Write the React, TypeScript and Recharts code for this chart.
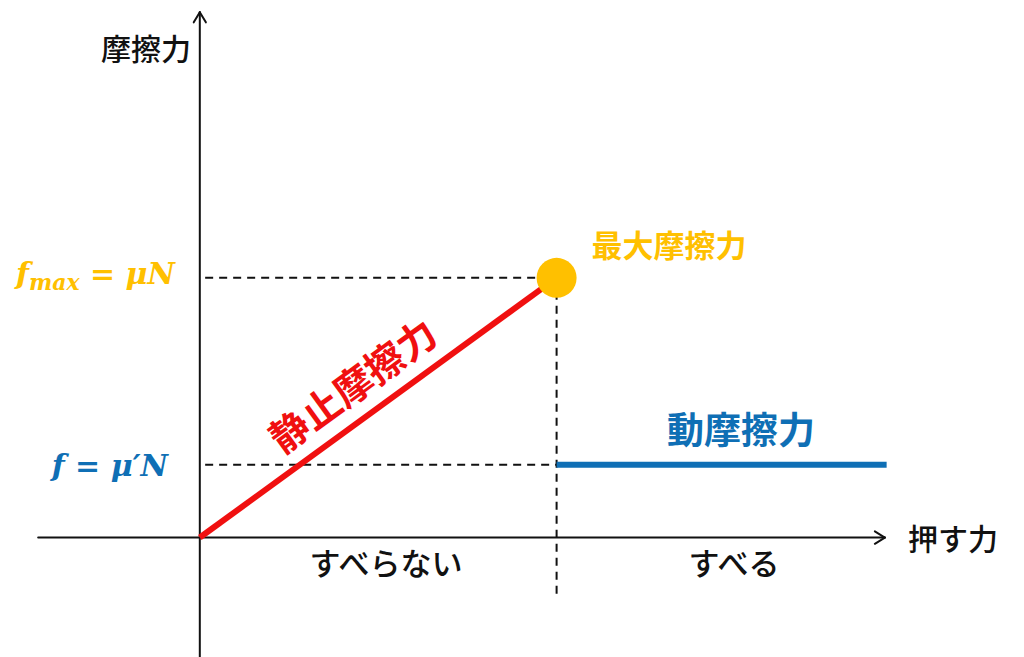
import React from "react";
import { ComposedChart, Line, XAxis, YAxis, ReferenceDot, ReferenceLine } from "recharts";

// push force (x) vs friction force (y); f_max reached at x = 10
const xAxisLine = [{ x: -4.53, y: 0 }, { x: 19.2, y: 0 }];
const xArrow = [{ x: 18.92, y: 0.24 }, { x: 19.2, y: 0 }, { x: 18.92, y: -0.24 }];
const yAxisLine = [{ x: 0, y: -4.6 }, { x: 0, y: 20.23 }];
const yArrow = [{ x: -0.17, y: 19.84 }, { x: 0, y: 20.23 }, { x: 0.17, y: 19.84 }];

const staticFriction = [{ x: 0, y: 0 }, { x: 10, y: 10 }];
const kineticFriction = [{ x: 10, y: 2.8 }, { x: 19.25, y: 2.8 }];
const maxPoint = { x: 10, y: 10 };

const fmaxGuide = [{ x: 0.15, y: 10 }, { x: 10, y: 10 }];
const kineticGuide = [{ x: 0.15, y: 2.8 }, { x: 10, y: 2.8 }];
const boundaryGuide = [{ x: 10, y: 10 }, { x: 10, y: -2.2 }];

const ORANGE = "#FFC000";
const BLUE = "#0F6FB5";
const RED = "#F01010";
const JP = '"Noto Sans CJK JP", "Noto Sans", sans-serif';
const MATH = '"DejaVu Serif", "Liberation Serif", serif';

function Tag({ x, y, size, color = "#111", weight = 500, rotate = 0, children }: any) {
  return (
    <div
      style={{
        position: "absolute",
        left: x,
        top: y,
        transform: `translate(-50%, -50%) rotate(${rotate}deg)`,
        fontFamily: JP,
        fontSize: size,
        fontWeight: weight,
        color,
        lineHeight: 1,
        whiteSpace: "nowrap",
      }}
    >
      {children}
    </div>
  );
}

function MathTag({ right, y, color, children }: any) {
  return (
    <div
      style={{
        position: "absolute",
        right: 1024 - right,
        top: y,
        transform: "translateY(-50%)",
        fontFamily: MATH,
        fontStyle: "italic",
        fontWeight: 700,
        fontSize: 30,
        color,
        lineHeight: 1,
        whiteSpace: "nowrap",
      }}
    >
      {children}
    </div>
  );
}

const seg = (pts: { x: number; y: number }[]) => pts.slice(1).map((p, i) => [pts[i], p]);

export default function App() {
  const black = { stroke: "#111", strokeWidth: 2, ifOverflow: "visible" } as const;
  const guides = [fmaxGuide, kineticGuide, boundaryGuide];
  const axes = [...seg(xAxisLine), ...seg(xArrow), ...seg(yAxisLine), ...seg(yArrow)];
  return (
    <div style={{ position: "absolute", left: 0, top: 0, width: 1024, height: 657, background: "#fff" }}>
      <ComposedChart width={1024} height={657} margin={{ top: 0, right: 0, bottom: 0, left: 0 }}>
        <XAxis type="number" dataKey="x" domain={[-5.6, 23.1]} allowDataOverflow hide />
        <YAxis type="number" dataKey="y" domain={[-4.6, 20.7]} allowDataOverflow hide />
        {guides.map((g, i) => (
          <ReferenceLine key={"g" + i} segment={g} strokeDasharray="8 6" {...black} />
        ))}
        {axes.map((s, i) => (
          <ReferenceLine key={"a" + i} segment={s} strokeLinecap="round" {...black} />
        ))}
        <Line data={kineticFriction} dataKey="y" stroke={BLUE} strokeWidth={6} dot={false} activeDot={false} isAnimationActive={false} />
        <Line data={staticFriction} dataKey="y" stroke={RED} strokeWidth={6} dot={false} activeDot={false} isAnimationActive={false} />
        <ReferenceDot x={maxPoint.x} y={maxPoint.y} r={20} fill={ORANGE} stroke="none" />
      </ComposedChart>

      <Tag x={146} y={47} size={30}>摩擦力</Tag>
      <Tag x={953} y={537} size={30}>押す力</Tag>
      <Tag x={669} y={243} size={31} color={ORANGE} weight={700}>最大摩擦力</Tag>
      <Tag x={741} y={428} size={37} color={BLUE} weight={700}>動摩擦力</Tag>
      <Tag x={352} y={384} size={39} color={RED} weight={700} rotate={-36}>静止摩擦力</Tag>
      <Tag x={386} y={561} size={31}>すべらない</Tag>
      <Tag x={734} y={561} size={31}>すべる</Tag>

      <MathTag right={175} y={276} color={ORANGE}>
        f<sub style={{ fontSize: 22, verticalAlign: "-0.25em" }}>max</sub> = μN
      </MathTag>
      <MathTag right={168} y={466} color={BLUE}>
        f = μ′N
      </MathTag>
    </div>
  );
}
